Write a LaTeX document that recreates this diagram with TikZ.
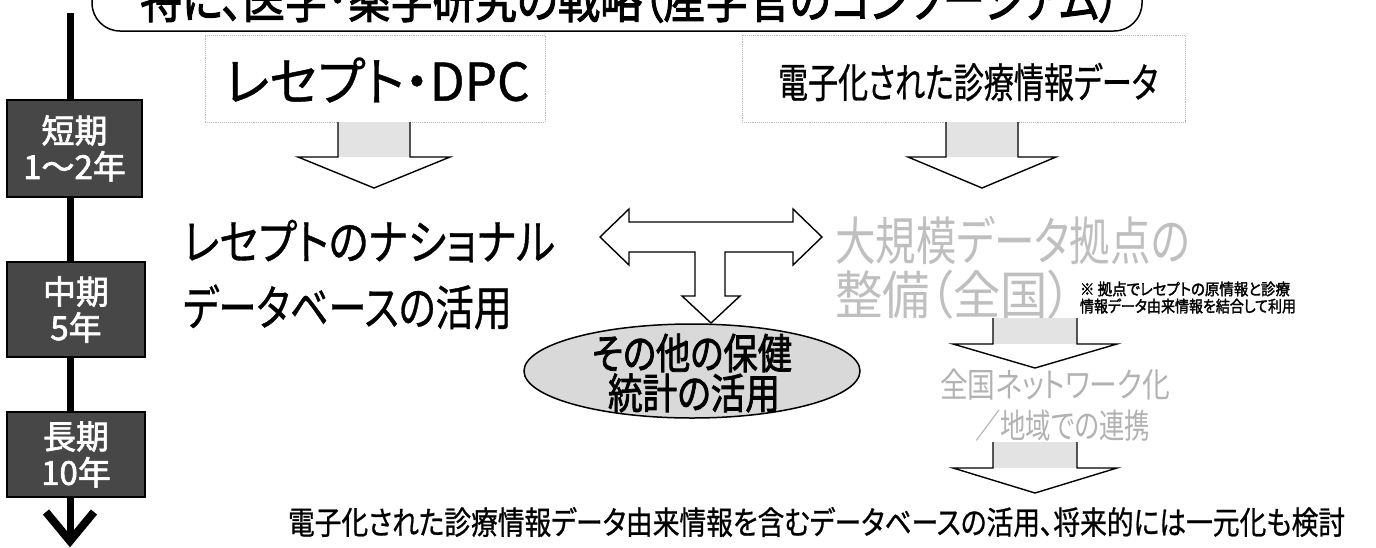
\documentclass[tikz,border=0pt]{standalone}
\usepackage{fontspec}
\usepackage{graphicx}
\usetikzlibrary{shapes.geometric}
\setmainfont{Noto Sans CJK JP}[RawFeature=+palt]
\newfontfamily\jpb{Noto Sans CJK JP}[RawFeature=+palt,FakeBold=2]
\newfontfamily\jpm{Noto Sans CJK JP}[RawFeature=+palt,FakeBold=0.8]
\newcommand\fitw[2]{\resizebox{#1}{\height}{#2}}
\newcommand\fsz[1]{\fontsize{#1}{#1}\selectfont}
\newcommand\blkdown[6]{%
  \fill[white] ({#1-#5},#2) -- ({#1+#5},#2) -- ({#1+#5},#3) -- ({#1+#6},#3) -- (#1,#4) -- ({#1-#6},#3) -- ({#1-#5},#3) -- cycle;
  \fill[gray!22] ({#1-#5},#2) rectangle ({#1+#5},#3);
  \draw[blkline] ({#1-#5},#2) -- ({#1-#5},#3) -- ({#1-#6},#3) -- (#1,#4) -- ({#1+#6},#3) -- ({#1+#5},#3) -- ({#1+#5},#2);
}
\tikzset{
  txt/.style={inner sep=0pt, outer sep=0pt},
  blkline/.style={draw=black, line width=1.4pt, line join=miter},
  tbox/.style={draw=black, line width=1.5pt, fill=black!72, text=white, inner sep=0pt, align=center, font=\jpb\fontsize{33}{36}\selectfont},
  dbox/.style={draw=gray!55, densely dotted, line width=0.9pt, inner sep=0pt},
  faint/.style={txt, text=gray!50},
}
\begin{document}
\begin{tikzpicture}[x=1pt,y=-1pt]
\useasboundingbox (0,0) rectangle (1376,547);
% banner
\draw[line width=1.5pt, fill=white, rounded corners=28pt] (92,-60) rectangle (1142,31);
\node[txt] (title) at (630,-1) {\jpb\fsz{50}\fitw{980pt}{特に、医学･薬学研究の戦略（産学官のコンソーシアム）}};
% timeline
\coordinate (tStart) at (70,13);
\coordinate (tEnd) at (70,538);
\draw[line width=7pt] (tStart) -- (tEnd);
\draw[line width=8pt, line join=miter, line cap=butt] (46,512) -- (70,541) -- (94,512);
\node[tbox, minimum width=135pt, minimum height=97pt] (short) at (74.5,148.5) {短期\\1～2年};
\node[tbox, minimum width=138pt, minimum height=95pt] (mid) at (76,309.5) {中期\\5年};
\node[tbox, minimum width=138pt, minimum height=85pt] (long) at (76,454.5) {長期\\10年};
% top boxes
\node[dbox, minimum width=340pt, minimum height=87pt] (lbox) at (375,78.5) {};
\node[txt] (lboxt) at (377,80) {\jpm\fsz{52}\fitw{305pt}{レセプト・DPC}};
\node[dbox, minimum width=443pt, minimum height=87pt] (rbox) at (963.5,78.5) {};
\node[txt] (rboxt) at (968,82) {\jpm\fsz{41}\fitw{380pt}{電子化された診療情報データ}};
% down arrows
\blkdown{374}{122}{157}{188}{36}{76}
\blkdown{982}{122}{157}{188}{36}{74}
% national database
\node[txt, anchor=west] (nat1) at (183,241) {\jpm\fsz{48}\fitw{372pt}{レセプトのナショナル}};
\node[txt, anchor=west] (nat2) at (183,307) {\jpm\fsz{48}\fitw{329pt}{データベースの活用}};
% T arrow
\fill[white, draw=black, line width=1.4pt, line join=miter]
 (600,237) -- (629,209) -- (629,222) -- (793,222) -- (793,209) -- (822,237) -- (793,265) -- (793,252)
 -- (725,252) -- (725,296) -- (740,296) -- (711,323) -- (682,296) -- (695,296) -- (695,252)
 -- (629,252) -- (629,265) -- cycle;
% ellipse
\node[ellipse, draw=black, line width=1.5pt, fill=gray!30, minimum width=336pt, minimum height=94pt, inner sep=0pt] (ell) at (692,371) {};
\node[txt] (ell1) at (692,353) {\jpb\fsz{42}\fitw{200pt}{その他の保健}};
\node[txt] (ell2) at (694,393) {\jpb\fsz{42}\fitw{172pt}{統計の活用}};
% large data base
\node[faint, anchor=west] (big1) at (835,240) {\fsz{52}\fitw{355pt}{大規模データ拠点の}};
\node[faint, anchor=west] (big2) at (835,295) {\fsz{52}\fitw{237pt}{整備（全国）}};
\node[txt, anchor=west] (note1) at (1080,289) {\jpb\fsz{16}\fitw{210pt}{※ 拠点でレセプトの原情報と診療}};
\node[txt, anchor=west] (note2) at (1080,306) {\jpb\fsz{16}\fitw{216pt}{情報データ由来情報を結合して利用}};
\blkdown{1035}{318}{344}{368}{42}{82}
\node[txt, text=gray!60, anchor=west] (net1) at (940,385) {\fsz{34}\fitw{230pt}{全国ネットワーク化}};
\node[txt, text=gray!60, anchor=west] (net2) at (975,426) {\fsz{34}\fitw{175pt}{／地域での連携}};
\blkdown{1035}{442}{468}{493}{42}{82}
% bottom
\node[txt, anchor=west] (bottom) at (288,522) {\jpm\fsz{32}\fitw{1057pt}{電子化された診療情報データ由来情報を含むデータベースの活用、将来的には一元化も検討}};
\end{tikzpicture}
\end{document}
